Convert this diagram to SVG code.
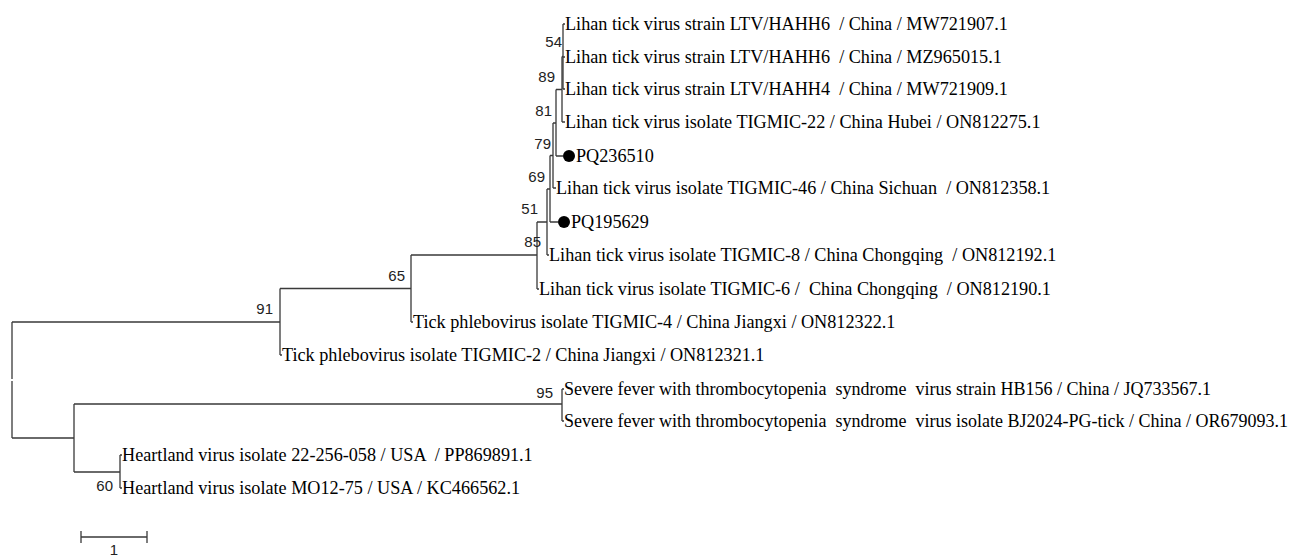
<svg xmlns="http://www.w3.org/2000/svg" width="1292" height="556" viewBox="0 0 1292 556">
<style>
.leaf{font-family:"Liberation Serif","Times New Roman",serif;font-size:18.2px;fill:#000}
.leaf.sm{font-size:18px}
.bs{font-family:"Liberation Sans",Arial,sans-serif;font-size:15px;fill:#222;text-anchor:end}
.br{fill:none;stroke:#3a3a3a;stroke-width:1.3}
</style>
<rect width="1292" height="556" fill="#fff"/>
<g id="connectors" class="br">
<path d="M12,322 V379 M12,381 V438"/>
<path d="M12,322 H280 M12,438 H74"/>
<path d="M280,288.5 V355 M280,355 H282"/>
<path d="M280,288.5 H411 M411,255 V322 M411,322 H413"/>
<path d="M411,255 H537 M537,222 V289 M537,289 H539"/>
<path d="M537,222 H547 M547,189 V255 M547,255 H549"/>
<path d="M547,189 H550 M550,155.5 V222 M550,222 H558"/>
<path d="M550,155.5 H553 M553,123 V188 M553,188 H556"/>
<path d="M553,123 H556 M556,89.5 V156 M556,156 H563"/>
<path d="M556,89.5 H562 M562,56.5 V122 M562,122 H565"/>
<path d="M562,56.5 H563 M563,24 V89 M563,24 H565 M563,57 H565 M563,89 H565"/>
<path d="M74,404 V472 M74,404 H562 M562,389 V421 M562,389 H564 M562,421 H564"/>
<path d="M74,472 H120 M120,455 V488 M120,455 H122 M120,488 H122"/>
</g>
<g id="scale-bar">
<path class="br" d="M81,537 H147 M81,531 V543 M147,531 V543"/>
<text class="bs" style="text-anchor:middle" x="114" y="555">1</text>
</g>
<g id="bootstrap">
<text class="bs" x="562" y="47">54</text>
<text class="bs" x="555" y="82">89</text>
<text class="bs" x="552" y="116">81</text>
<text class="bs" x="551" y="149">79</text>
<text class="bs" x="545" y="182">69</text>
<text class="bs" x="538" y="214">51</text>
<text class="bs" x="541" y="247">85</text>
<text class="bs" x="405" y="281">65</text>
<text class="bs" x="273" y="314">91</text>
<text class="bs" x="553" y="398">95</text>
<text class="bs" x="113" y="491">60</text>
</g>
<g id="leaf-1"><text class="leaf" xml:space="preserve" x="565" y="30">Lihan tick virus strain LTV/HAHH6  / China / MW721907.1</text></g>
<g id="leaf-2"><text class="leaf" xml:space="preserve" x="565" y="63">Lihan tick virus strain LTV/HAHH6  / China / MZ965015.1</text></g>
<g id="leaf-3"><text class="leaf" xml:space="preserve" x="565" y="95">Lihan tick virus strain LTV/HAHH4  / China / MW721909.1</text></g>
<g id="leaf-4"><text class="leaf" xml:space="preserve" x="565" y="128">Lihan tick virus isolate TIGMIC-22 / China Hubei / ON812275.1</text></g>
<g id="leaf-5"><circle cx="569" cy="156" r="6" fill="#000"/><text class="leaf" x="576" y="162">PQ236510</text></g>
<g id="leaf-6"><text class="leaf" xml:space="preserve" x="556" y="194">Lihan tick virus isolate TIGMIC-46 / China Sichuan  / ON812358.1</text></g>
<g id="leaf-7"><circle cx="564" cy="222" r="6" fill="#000"/><text class="leaf" x="571" y="228">PQ195629</text></g>
<g id="leaf-8"><text class="leaf" xml:space="preserve" x="549" y="261">Lihan tick virus isolate TIGMIC-8 / China Chongqing  / ON812192.1</text></g>
<g id="leaf-9"><text class="leaf" xml:space="preserve" x="539" y="295">Lihan tick virus isolate TIGMIC-6 /  China Chongqing  / ON812190.1</text></g>
<g id="leaf-10"><text class="leaf" xml:space="preserve" x="413" y="328">Tick phlebovirus isolate TIGMIC-4 / China Jiangxi / ON812322.1</text></g>
<g id="leaf-11"><text class="leaf" xml:space="preserve" x="282" y="361">Tick phlebovirus isolate TIGMIC-2 / China Jiangxi / ON812321.1</text></g>
<g id="leaf-12"><text class="leaf sm" xml:space="preserve" x="564" y="395">Severe fever with thrombocytopenia  syndrome  virus strain HB156 / China / JQ733567.1</text></g>
<g id="leaf-13"><text class="leaf sm" xml:space="preserve" x="564" y="427">Severe fever with thrombocytopenia  syndrome  virus isolate BJ2024-PG-tick / China / OR679093.1</text></g>
<g id="leaf-14"><text class="leaf" xml:space="preserve" x="122" y="461">Heartland virus isolate 22-256-058 / USA  / PP869891.1</text></g>
<g id="leaf-15"><text class="leaf" xml:space="preserve" x="122" y="494">Heartland virus isolate MO12-75 / USA / KC466562.1</text></g>
</svg>
